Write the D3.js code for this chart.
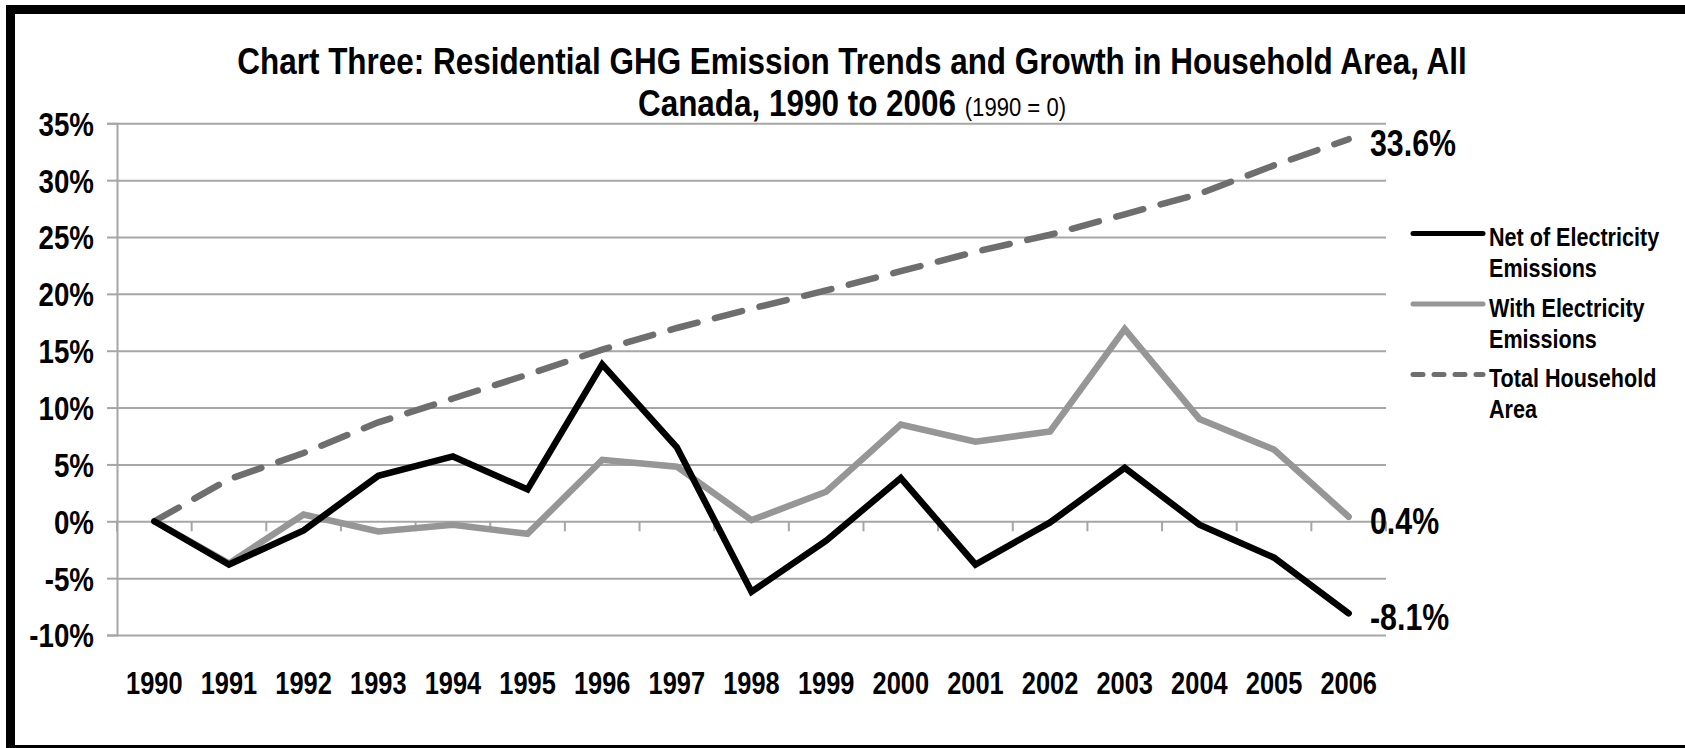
<!DOCTYPE html>
<html>
<head>
<meta charset="utf-8">
<script src="https://cdn.jsdelivr.net/npm/d3@7"></script>
<style>
  body { margin:0; background:#fff; }
  svg { display:block; }
  text { font-family: "Liberation Sans", Arial, sans-serif; font-weight:bold; fill:#000; }
</style>
</head>
<body>
<div id="chart"></div>
<script>
const years = ['1990','1991','1992','1993','1994','1995','1996','1997','1998','1999','2000','2001','2002','2003','2004','2005','2006'];
const netOfElectricity = [0, -3.8, -0.8, 4.0, 5.7, 2.8, 13.8, 6.5, -6.2, -1.7, 3.8, -3.8, -0.1, 4.7, -0.3, -3.2, -8.1];
const withElectricity  = [0, -3.7, 0.6, -0.9, -0.3, -1.1, 5.4, 4.8, 0.1, 2.6, 8.5, 7.0, 7.9, 16.9, 9.0, 6.3, 0.4];
const householdArea    = [0, 3.7, 6.0, 8.7, 10.8, 12.9, 15.1, 17.0, 18.7, 20.3, 22.0, 23.7, 25.2, 27.0, 28.8, 31.3, 33.6];
const yTicks = [-10, -5, 0, 5, 10, 15, 20, 25, 30, 35];
const legendLabels = [['Net of Electricity','Emissions'], ['With Electricity','Emissions'], ['Total Household','Area']];

const W = 1685, H = 748;
const svg = d3.select('#chart').append('svg').attr('width', W).attr('height', H);

// no narrow font installed: squeeze text horizontally round its anchor
function narrow(sel, k){
  sel.each(function(){
    const t = d3.select(this), ax = +t.attr('x') || 0;
    t.attr('transform', `translate(${ax*(1-k)},0) scale(${k},1)`);
  });
}

svg.append('rect').attr('x',10.5).attr('y',9.5).attr('width',1700).attr('height',740)
  .attr('fill','#fff').attr('stroke','#000').attr('stroke-width',9);

const x = d3.scaleBand().domain(years).range([117, 1386]);
const y = d3.scaleLinear().domain([-10, 35]).range([635, 123.3]);
const cx = d => x(d) + x.bandwidth()/2;

// gridlines
const grid = svg.append('g').attr('transform','translate(117,0)')
  .call(d3.axisLeft(y).tickValues(yTicks).tickSize(-(1386-117)).tickFormat(''));
grid.select('.domain').remove();
grid.selectAll('line').attr('stroke','#a6a6a6').attr('stroke-width',2);

// y axis
const yAxis = svg.append('g').attr('transform','translate(117,0)')
  .call(d3.axisLeft(y).tickValues(yTicks).tickSize(10).tickPadding(13).tickFormat(d => d + '%'));
yAxis.select('.domain').attr('stroke','#a6a6a6').attr('stroke-width',2);
yAxis.selectAll('line').attr('stroke','#a6a6a6').attr('stroke-width',2);
yAxis.selectAll('text').style('font-size','33px').attr('dy','0.36em').call(narrow, 0.84);

// category ticks on zero line
const bounds = years.map(d => x(d)).concat([x.range()[1]]);
svg.append('g').selectAll('line').data(bounds).enter().append('line')
  .attr('x1', d => d).attr('x2', d => d).attr('y1', y(0)).attr('y2', y(0) + 10)
  .attr('stroke','#a6a6a6').attr('stroke-width',2);

// x labels
const xAxis = svg.append('g').attr('transform','translate(0,672)')
  .call(d3.axisBottom(x).tickSize(0).tickPadding(0));
xAxis.select('.domain').remove();
xAxis.selectAll('text').style('font-size','31px').call(narrow, 0.82);

// series
const series = [
  {vals: netOfElectricity, color:'#000', width:6.5, dash:null},
  {vals: withElectricity, color:'#969696', width:6.5, dash:null},
  {vals: householdArea, color:'#6e6e6e', width:6.5, dash:'28,18'}
];
const line = d3.line().x((d,i) => cx(years[i])).y(d => y(d));
series.slice().reverse().forEach(s => {
  svg.append('path').datum(s.vals).attr('d', line)
    .attr('fill','none').attr('stroke', s.color).attr('stroke-width', s.width)
    .attr('stroke-linejoin','miter').attr('stroke-linecap','round')
    .attr('stroke-dasharray', s.dash);
});

// end labels
series.forEach(s => {
  const v = s.vals[s.vals.length-1];
  svg.append('text').attr('x', 1370).attr('y', y(v)).attr('dy','0.46em')
    .style('font-size','37px').text(v.toFixed(1) + '%').call(narrow, 0.82);
});

// legend
const lg = svg.append('g');
legendLabels.forEach((lab, i) => {
  const ly = 233.6 + i*70.5;
  const s = series[i];
  lg.append('line').attr('x1',1413).attr('x2',1483).attr('y1',ly).attr('y2',ly)
    .attr('stroke', s.color).attr('stroke-width', 5).attr('stroke-linecap','round')
    .attr('stroke-dasharray', s.dash ? '10,11' : null);
  const t = lg.append('text').attr('x',1489).attr('y', ly + 12.5).style('font-size','26px');
  t.append('tspan').attr('x',1489).text(lab[0]);
  t.append('tspan').attr('x',1489).attr('dy',31).text(lab[1]);
  t.call(narrow, 0.83);
});

// title
const title = svg.append('text').attr('x',852).attr('y',74).attr('text-anchor','middle').style('font-size','37px');
title.append('tspan').attr('x',852).text('Chart Three: Residential GHG Emission Trends and Growth in Household Area, All');
title.append('tspan').attr('x',852).attr('dy',42).text('Canada, 1990 to 2006 ')
  .append('tspan').style('font-weight','normal').style('font-size','26px').text('(1990 = 0)');
title.call(narrow, 0.85);
</script>
</body>
</html>
